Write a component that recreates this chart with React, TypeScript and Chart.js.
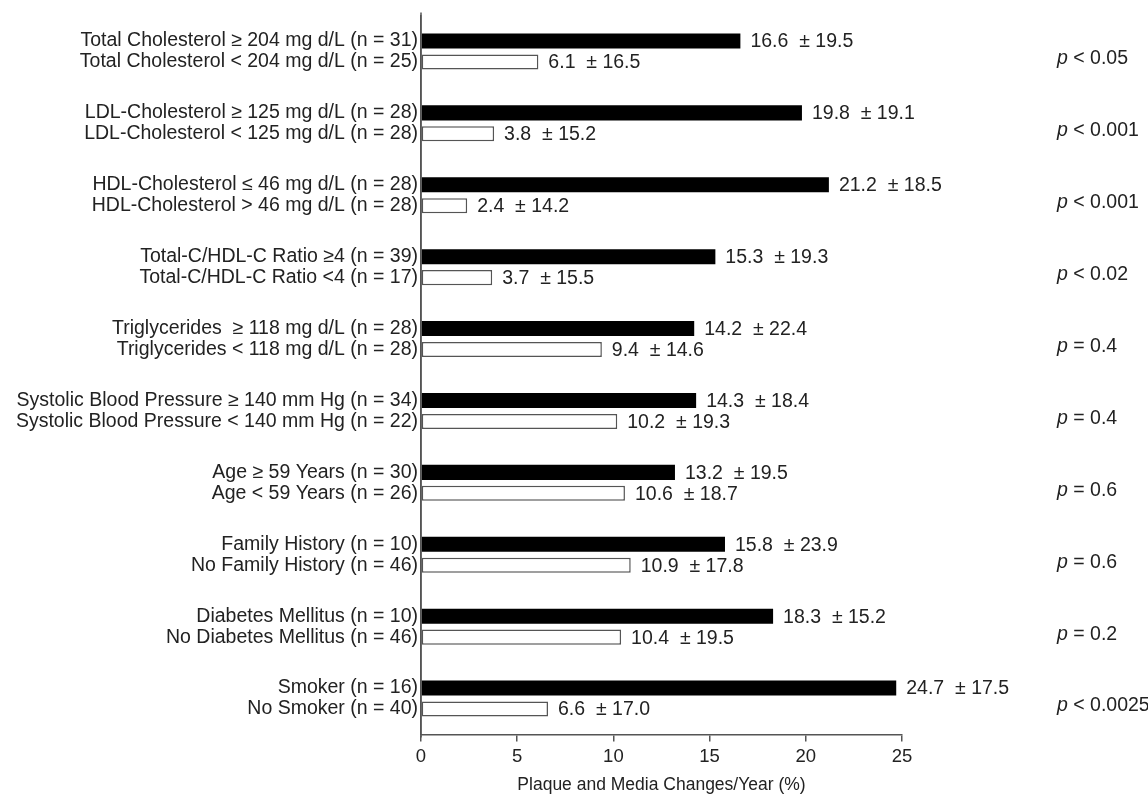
import React, { useEffect, useRef } from "react";
import { Chart, registerables } from "chart.js";

Chart.register(...registerables);

const highLabels = [
  "Total Cholesterol ≥ 204 mg d/L (n = 31)",
  "LDL-Cholesterol ≥ 125 mg d/L (n = 28)",
  "HDL-Cholesterol ≤ 46 mg d/L (n = 28)",
  "Total-C/HDL-C Ratio ≥4 (n = 39)",
  "Triglycerides  ≥ 118 mg d/L (n = 28)",
  "Systolic Blood Pressure ≥ 140 mm Hg (n = 34)",
  "Age ≥ 59 Years (n = 30)",
  "Family History (n = 10)",
  "Diabetes Mellitus (n = 10)",
  "Smoker (n = 16)",
];
const lowLabels = [
  "Total Cholesterol < 204 mg d/L (n = 25)",
  "LDL-Cholesterol < 125 mg d/L (n = 28)",
  "HDL-Cholesterol > 46 mg d/L (n = 28)",
  "Total-C/HDL-C Ratio <4 (n = 17)",
  "Triglycerides < 118 mg d/L (n = 28)",
  "Systolic Blood Pressure < 140 mm Hg (n = 22)",
  "Age < 59 Years (n = 26)",
  "No Family History (n = 46)",
  "No Diabetes Mellitus (n = 46)",
  "No Smoker (n = 40)",
];
const highMeans = [16.6, 19.8, 21.2, 15.3, 14.2, 14.3, 13.2, 15.8, 18.3, 24.7];
const highSDs = [19.5, 19.1, 18.5, 19.3, 22.4, 18.4, 19.5, 23.9, 15.2, 17.5];
const lowMeans = [6.1, 3.8, 2.4, 3.7, 9.4, 10.2, 10.6, 10.9, 10.4, 6.6];
const lowSDs = [16.5, 15.2, 14.2, 15.5, 14.6, 19.3, 18.7, 17.8, 19.5, 17.0];
const pRelations = ["<", "<", "<", "<", "=", "=", "=", "=", "=", "<"];
const pValues = ["0.05", "0.001", "0.001", "0.02", "0.4", "0.4", "0.6", "0.6", "0.2", "0.0025"];
const xTicks = [0, 5, 10, 15, 20, 25];
const xTitle = "Plaque and Media Changes/Year (%)";

const FONT = "'Liberation Sans', Arial, Helvetica, sans-serif";
const TEXT = "#222";
const AXIS = "#555";
const LABEL_SIZE = 19.5;

export default function App() {
  const ref = useRef<HTMLCanvasElement | null>(null);

  useEffect(() => {
    if (!ref.current) return;
    const labelPlugin = {
      id: "valueLabels",
      afterDatasetsDraw(chart: any) {
        const ctx = chart.ctx;
        ctx.save();
        ctx.font = `${LABEL_SIZE}px ${FONT}`;
        ctx.fillStyle = TEXT;
        ctx.textBaseline = "middle";
        ctx.textAlign = "left";
        const sets = [
          { means: highMeans, sds: highSDs },
          { means: lowMeans, sds: lowSDs },
        ];
        sets.forEach((s, di) => {
          const meta = chart.getDatasetMeta(di);
          meta.data.forEach((bar: any, i: number) => {
            ctx.fillText(`${s.means[i].toFixed(1)}  ± ${s.sds[i].toFixed(1)}`, bar.x + 10, bar.y + 1);
          });
        });
        const yScale = chart.scales.y;
        pValues.forEach((pv, i) => {
          const y = yScale.getPixelForValue(i) + 7.5;
          const x0 = 1057;
          ctx.font = `italic ${LABEL_SIZE}px ${FONT}`;
          ctx.fillText("p", x0, y);
          const w = ctx.measureText("p").width;
          ctx.font = `${LABEL_SIZE}px ${FONT}`;
          ctx.fillText(` ${pRelations[i]} ${pv}`, x0 + w, y);
        });
        const area = chart.chartArea;
        ctx.strokeStyle = AXIS;
        ctx.lineWidth = 1.5;
        ctx.beginPath();
        ctx.moveTo(area.left, area.top - 3);
        ctx.lineTo(area.left, area.bottom + 3);
        ctx.stroke();
        ctx.restore();
      },
    };

    const chart = new Chart(ref.current, {
      type: "bar",
      data: {
        labels: highLabels.map((h, i) => [h, lowLabels[i]]),
        datasets: [
          {
            data: highMeans,
            backgroundColor: "#000",
            borderWidth: 0,
            categoryPercentage: 0.583,
            barPercentage: 0.72,
          },
          {
            data: lowMeans,
            backgroundColor: "#fff",
            borderColor: AXIS,
            borderWidth: 1.5,
            borderSkipped: false,
            categoryPercentage: 0.583,
            barPercentage: 0.72,
          },
        ],
      },
      options: {
        indexAxis: "y",
        animation: false,
        responsive: false,
        maintainAspectRatio: false,
        layout: { padding: { top: 15.5, right: 246, bottom: 0, left: 0 } },
        plugins: {
          legend: { display: false },
          tooltip: { enabled: false },
        },
        scales: {
          x: {
            type: "linear",
            min: 0,
            max: 25,
            afterBuildTicks: (s: any) => {
              s.ticks = xTicks.map((v) => ({ value: v }));
            },
            afterFit: (s: any) => {
              s.height = 61.5;
              s.paddingLeft = 0;
              s.paddingRight = 0;
            },
            ticks: {
              font: { family: FONT, size: 18.5 },
              color: TEXT,
              padding: 4.5,
            },
            grid: {
              drawOnChartArea: false,
              drawTicks: true,
              tickLength: 7,
              color: AXIS,
              lineWidth: 1.5,
            },
            border: { display: true, color: AXIS, width: 1.5 },
            title: {
              display: true,
              text: xTitle,
              font: { family: FONT, size: 17.5 },
              color: TEXT,
              padding: { top: 0, bottom: 0 },
            },
          },
          y: {
            type: "category",
            offset: true,
            afterFit: (s: any) => {
              s.width = 421;
              s.paddingTop = 0;
              s.paddingBottom = 0;
            },
            ticks: {
              font: { family: FONT, size: LABEL_SIZE, lineHeight: "21px" },
              color: TEXT,
              padding: 3,
            },
            grid: { display: false, drawTicks: false },
            border: { display: true, color: AXIS, width: 1.5 },
          },
        },
      },
      plugins: [labelPlugin],
    });
    return () => chart.destroy();
  }, []);

  return (
    <div style={{ position: "fixed", left: 0, top: 0, width: 1148, height: 796, background: "#fff" }}>
      <canvas ref={ref} width={1148} height={796} style={{ width: 1148, height: 796 }} />
    </div>
  );
}
